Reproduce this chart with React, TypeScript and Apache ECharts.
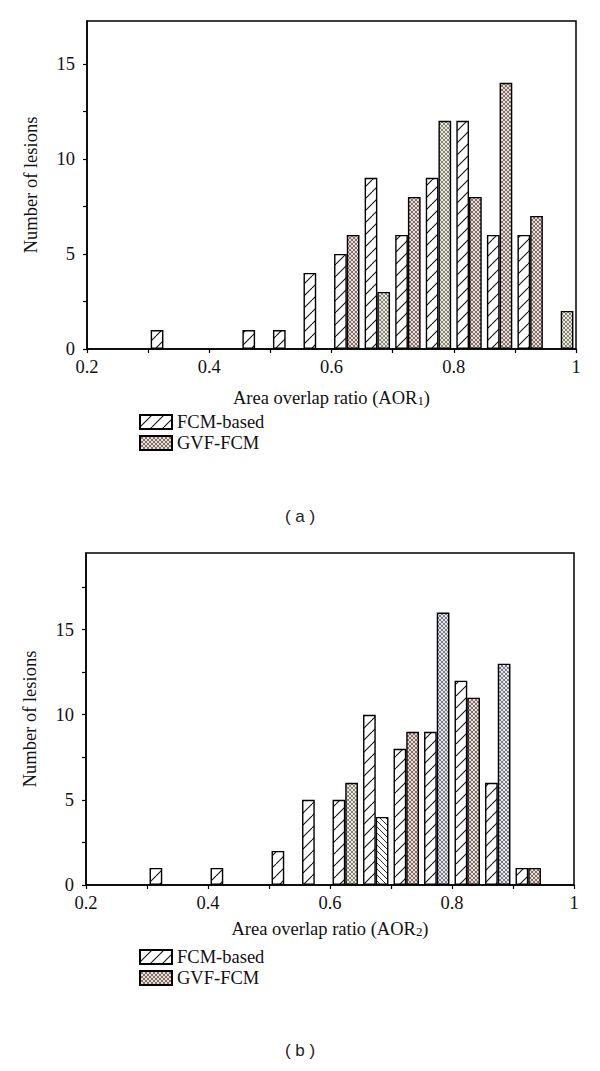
import React, { useEffect, useRef } from "react";
import * as echarts from "echarts";

// ---- data ----
const binCenters = [0.325, 0.375, 0.425, 0.475, 0.525, 0.575, 0.625, 0.675, 0.725, 0.775, 0.825, 0.875, 0.925, 0.975];
const fcmA = [1, 0, 0, 1, 1, 4, 5, 9, 6, 9, 12, 6, 6, 0];
const gvfA = [0, 0, 0, 0, 0, 0, 6, 3, 8, 12, 8, 14, 7, 2];
const fcmB = [1, 0, 1, 0, 2, 5, 5, 10, 8, 9, 12, 6, 1, 0];
const gvfB = [0, 0, 0, 0, 0, 0, 6, 4, 9, 16, 11, 13, 1, 0];
const seriesNames = ["FCM-based", "GVF-FCM"];
const xNames = ["Area overlap ratio (AOR{sub|1})", "Area overlap ratio (AOR{sub|2})"];
const yName = "Number of lesions";
const panelLabels = ["( a )", "( b )"];

function makeTile(size: number, bg: string, lines: { color: string; dir: number; width: number }[]) {
  const c = document.createElement("canvas");
  c.width = size;
  c.height = size;
  const ctx = c.getContext("2d")!;
  ctx.fillStyle = bg;
  ctx.fillRect(0, 0, size, size);
  for (const l of lines) {
    ctx.strokeStyle = l.color;
    ctx.lineWidth = l.width;
    for (let k = -1; k <= 1; k++) {
      ctx.beginPath();
      if (l.dir > 0) {
        ctx.moveTo(k * size, size);
        ctx.lineTo(k * size + size, 0);
      } else {
        ctx.moveTo(k * size, 0);
        ctx.lineTo(k * size + size, size);
      }
      ctx.stroke();
    }
  }
  return { image: c, repeat: "repeat", imageWidth: size, imageHeight: size } as any;
}

export default function App() {
  const ref = useRef<HTMLDivElement>(null);
  useEffect(() => {
    if (!ref.current) return;
    const chart = echarts.init(ref.current, undefined, { renderer: "svg" });

    const slash = makeTile(12, "#ffffff", [{ color: "#111", dir: 1, width: 1.1 }]);
    const crossBrown = makeTile(4, "#e4ded6", [
      { color: "#806461", dir: 1, width: 0.9 },
      { color: "#726260", dir: -1, width: 0.9 },
    ]);
    const crossGreen = makeTile(4, "#e6e9d8", [
      { color: "#857f70", dir: 1, width: 0.9 },
      { color: "#7a766c", dir: -1, width: 0.9 },
    ]);
    const crossBlue = makeTile(4, "#e4e6ec", [
      { color: "#747684", dir: 1, width: 0.9 },
      { color: "#6c6c78", dir: -1, width: 0.9 },
    ]);
    const backslash = makeTile(6, "#ffffff", [{ color: "#333", dir: -1, width: 1 }]);

    const gvfStylesA = [null, null, null, null, null, null, crossBrown, crossGreen, crossBrown, crossGreen, crossBrown, crossBrown, crossBrown, crossGreen];
    const gvfStylesB = [null, null, null, null, null, null, crossGreen, backslash, crossBrown, crossBlue, crossBrown, crossBlue, crossBrown, null];

    const toData = (vals: number[], styles?: any[]) =>
      binCenters
        .map((x, i) => {
          if (!vals[i]) return null;
          const d: any = { value: [x, vals[i]] };
          if (styles && styles[i]) d.itemStyle = { color: styles[i] };
          return d;
        })
        .filter(Boolean);

    const serif = "'Liberation Serif', 'Times New Roman', serif";
    const fs = 18.5;
    const xLabelFmt = (v: number) => {
      const t = Math.round(v * 10);
      if (t % 2 !== 0) return "";
      return t === 10 ? "1" : (t / 10).toFixed(1);
    };
    const yLabelFmt = (v: number) => (Math.abs(v % 5) < 1e-6 ? String(v) : "");

    const grids = [
      { left: 87, top: 21, width: 489, height: 328 },
      { left: 86, top: 553, width: 488, height: 332 },
    ];
    const yMax = [17.25, 19.5];
    const xNameGap = [39, 34];

    const xAxis = grids.map((_, i) => ({
      type: "value",
      gridIndex: i,
      min: 0.2,
      max: 1,
      interval: 0.1,
      axisLine: { show: true, lineStyle: { color: "#000", width: 1.5 } },
      axisTick: { show: true, inside: false, length: 4, lineStyle: { color: "#000", width: 1.2 } },
      axisLabel: { formatter: xLabelFmt, color: "#111", fontFamily: serif, fontSize: fs, margin: 8 },
      splitLine: { show: false },
      name: xNames[i],
      nameLocation: "middle",
      nameGap: xNameGap[i],
      nameTextStyle: {
        color: "#111",
        fontFamily: serif,
        fontSize: fs,
        rich: { sub: { fontFamily: serif, fontSize: 13, color: "#111", verticalAlign: "bottom", padding: [6, 0, 0, 0] } },
      },
    }));
    const yAxis = grids.map((_, i) => ({
      type: "value",
      gridIndex: i,
      min: 0,
      max: yMax[i],
      interval: 2.5,
      axisLine: { show: true, lineStyle: { color: "#000", width: 1.5 } },
      axisTick: { show: true, inside: false, length: 4, lineStyle: { color: "#000", width: 1.2 } },
      axisLabel: { formatter: yLabelFmt, color: "#111", fontFamily: serif, fontSize: fs, margin: 12, showMaxLabel: false },
      splitLine: { show: false },
      name: yName,
      nameLocation: "middle",
      nameGap: 47,
      nameRotate: 90,
      nameTextStyle: { color: "#111", fontFamily: serif, fontSize: fs },
    }));

    const barBase = { type: "bar", barWidth: 12.7, barGap: "0%", itemStyle: { borderColor: "#000", borderWidth: 1.4 } };
    const series: any[] = [];
    [[fcmA, gvfA, gvfStylesA], [fcmB, gvfB, gvfStylesB]].forEach((set: any, i) => {
      series.push({
        ...barBase,
        name: seriesNames[0],
        xAxisIndex: i,
        yAxisIndex: i,
        itemStyle: { ...barBase.itemStyle, color: slash },
        data: toData(set[0]),
      });
      series.push({
        ...barBase,
        name: seriesNames[1],
        xAxisIndex: i,
        yAxisIndex: i,
        itemStyle: { ...barBase.itemStyle, color: crossBrown },
        data: toData(set[1], set[2]),
      });
    });

    const legendTops = [412, 947];
    chart.setOption({
      animation: false,
      backgroundColor: "#fff",
      grid: grids.map((g) => ({ ...g, show: true, borderColor: "#000", borderWidth: 1.5, backgroundColor: "transparent" })),
      xAxis,
      yAxis,
      legend: legendTops.map((t) => ({
        data: seriesNames,
        orient: "vertical",
        left: 139,
        top: t,
        padding: 0,
        itemWidth: 32,
        itemHeight: 14,
        itemGap: 1,
        selectedMode: false,
        icon: "rect",
        textStyle: { fontFamily: serif, fontSize: fs, color: "#111", padding: [0, 0, 0, 0], lineHeight: 20 },
      })),
      graphic: [
        { type: "text", left: "center", top: 508, style: { text: panelLabels[0], font: "17px 'Liberation Sans', Arial, sans-serif", fill: "#222" } },
        { type: "text", left: "center", top: 1042, style: { text: panelLabels[1], font: "17px 'Liberation Sans', Arial, sans-serif", fill: "#222" } },
      ],
      series,
    });
    return () => chart.dispose();
  }, []);
  return <div ref={ref} style={{ position: "absolute", left: 0, top: 0, width: 600, height: 1071 }} />;
}
